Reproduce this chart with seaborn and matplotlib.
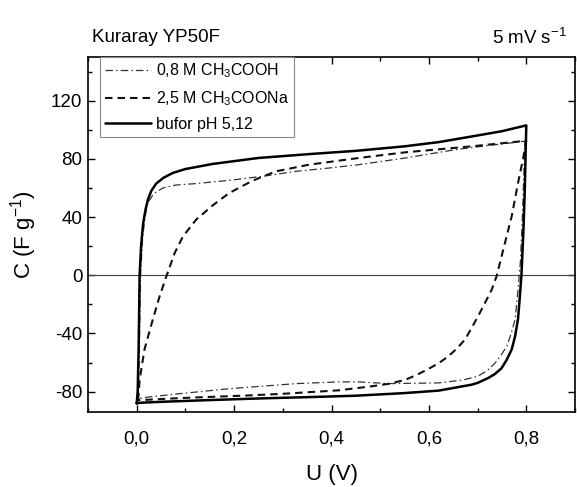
import matplotlib
matplotlib.use("Agg")
import matplotlib.pyplot as plt
from matplotlib.ticker import MultipleLocator, FuncFormatter
import seaborn as sns
import pandas as pd

# ---- data ----
solid_fwd_U = [0.000, 0.002, 0.004, 0.006, 0.009, 0.013, 0.018, 0.023, 0.030, 0.040, 0.055, 0.074, 0.100, 0.156, 0.250, 0.360, 0.450, 0.550, 0.620, 0.690, 0.750, 0.800]
solid_fwd_C = [-88, -80, -50, 0, 20, 35, 45, 52, 58, 63, 67, 70.3, 73, 76.5, 80.6, 83.4, 85.5, 88.6, 91.5, 95.5, 99, 103]
solid_rev_U = [0.800, 0.799, 0.797, 0.794, 0.790, 0.786, 0.783, 0.777, 0.770, 0.760, 0.749, 0.735, 0.722, 0.700, 0.688, 0.650, 0.620, 0.550, 0.450, 0.350, 0.250, 0.150, 0.050, 0.010, 0.000]
solid_rev_C = [103, 90, 60, 30, 0, -18, -30, -42, -51, -58, -64, -68, -70.6, -74, -75.2, -77.5, -79.3, -81, -82.8, -83.8, -84.7, -85.8, -87, -87.6, -88]

dd_fwd_U = [0.003, 0.005, 0.008, 0.012, 0.017, 0.023, 0.035, 0.054, 0.080, 0.122, 0.190, 0.258, 0.327, 0.395, 0.456, 0.552, 0.654, 0.730, 0.770, 0.790, 0.797]
dd_fwd_C = [-85, -60, 0, 25, 40, 50, 56, 60, 62, 63, 65.2, 68, 71.4, 73.7, 76, 80.6, 86.3, 89.5, 91, 92, 92]
dd_rev_U = [0.797, 0.795, 0.792, 0.788, 0.783, 0.777, 0.768, 0.760, 0.748, 0.736, 0.720, 0.700, 0.670, 0.620, 0.517, 0.456, 0.415, 0.327, 0.190, 0.088, 0.020, 0.003]
dd_rev_C = [92, 70, 40, 10, -10, -30.5, -41, -48.8, -55, -60.3, -65.5, -69.5, -72, -74, -74.5, -73.3, -73.3, -74.5, -78, -81.4, -83.9, -85]

dash_fwd_U = [0.003, 0.006, 0.016, 0.033, 0.047, 0.061, 0.078, 0.095, 0.122, 0.156, 0.190, 0.238, 0.286, 0.354, 0.456, 0.552, 0.688, 0.787, 0.800]
dash_fwd_C = [-86, -71.8, -51, -30.5, -14.5, -0.7, 15.3, 26.7, 38.2, 48, 56.5, 65, 71.4, 76, 80.6, 84.5, 88.6, 92, 92.5]
dash_rev_U = [0.800, 0.793, 0.783, 0.770, 0.756, 0.739, 0.729, 0.722, 0.712, 0.701, 0.688, 0.674, 0.657, 0.640, 0.620, 0.599, 0.575, 0.552, 0.520, 0.483, 0.415, 0.300, 0.224, 0.120, 0.054, 0.010, 0.003]
dash_rev_C = [92.5, 79.5, 63.4, 40.5, 22, -0.7, -9.9, -14.5, -21, -28.2, -36, -44.3, -50.5, -55.7, -60.5, -64.4, -68.5, -71.8, -74.5, -76.3, -79.1, -81.5, -82.7, -84, -85, -85.8, -86]

labels = [r"0,8 M CH$_3$COOH", r"2,5 M CH$_3$COONa", "bufor pH 5,12"]
x_ticks = [0.0, 0.2, 0.4, 0.6, 0.8]
y_ticks = [-80, -40, 0, 40, 80, 120]

# ---- styling ----
sns.set_theme(style="ticks")
plt.rcParams["font.family"] = ["Liberation Sans", "DejaVu Sans"]
plt.rcParams["mathtext.default"] = "regular"
plt.rcParams["axes.unicode_minus"] = False

fig = plt.figure(figsize=(5.77, 4.87), dpi=100)
W, H = 577, 487
L, R, T, B = 88, 575, 57, 412
ax = fig.add_axes([L / W, 1 - B / H, (R - L) / W, (B - T) / H])


def frame(fu, fc, ru, rc, name):
    return pd.DataFrame({"U": fu + ru, "C": fc + rc, "series": name,
                         "order": range(len(fu) + len(ru))})


df_dd = frame(dd_fwd_U, dd_fwd_C, dd_rev_U, dd_rev_C, labels[0])
df_da = frame(dash_fwd_U, dash_fwd_C, dash_rev_U, dash_rev_C, labels[1])
df_so = frame(solid_fwd_U, solid_fwd_C, solid_rev_U, solid_rev_C, labels[2])

ax.axhline(0, color="#444444", lw=0.8, zorder=1)

sns.lineplot(data=df_dd, x="U", y="C", sort=False, estimator=None, ax=ax,
             color="#333333", lw=0.9, linestyle=(0, (6, 2.5, 1.2, 2.5)),
             label=labels[0])
sns.lineplot(data=df_da, x="U", y="C", sort=False, estimator=None, ax=ax,
             color="#111111", lw=1.5, linestyle=(0, (3.6, 2.4)),
             label=labels[1])
sns.lineplot(data=df_so, x="U", y="C", sort=False, estimator=None, ax=ax,
             color="black", lw=1.8, label=labels[2])

ax.set_xlim(-0.1, 0.9)
ax.set_ylim(-94, 150)
ax.set_xticks(x_ticks)
ax.set_yticks(y_ticks)
ax.xaxis.set_minor_locator(MultipleLocator(0.1))
ax.yaxis.set_minor_locator(MultipleLocator(20))
ax.xaxis.set_major_formatter(FuncFormatter(lambda v, p: f"{v:.1f}".replace(".", ",")))
ax.yaxis.set_major_formatter(FuncFormatter(lambda v, p: f"{v:.0f}"))
ax.tick_params(which="both", direction="in", top=True, right=True,
               color="black", width=1.0, labelsize=13.5, labelcolor="black")
ax.tick_params(which="major", length=5)
ax.tick_params(which="minor", length=3)
ax.tick_params(axis="x", which="major", pad=13)
ax.tick_params(axis="y", which="major", pad=4)
for s in ax.spines.values():
    s.set_color("black")
    s.set_linewidth(1.2)

ax.set_xlabel("U (V)", fontsize=16, color="black", labelpad=12)
ax.set_ylabel(r"C (F g$^{-1}$)", fontsize=16, color="black", labelpad=9)

leg = ax.legend(loc="upper left", bbox_to_anchor=(100 / W, 1 - 57 / H),
                bbox_transform=fig.transFigure, borderaxespad=0,
                fontsize=11.5, handlelength=2.9, handletextpad=0.3,
                labelspacing=0.55, borderpad=0.3, fancybox=False,
                frameon=True, framealpha=1)
leg.get_frame().set_edgecolor("#888888")
leg.get_frame().set_linewidth(0.8)
for t in leg.get_texts():
    t.set_color("black")

fig.text(92 / W, 1 - 38 / H, "Kuraray YP50F", fontsize=13.5, ha="left",
         va="center", color="black")
fig.text(567 / W, 1 - 38 / H, r"5 mV s$^{-1}$", fontsize=13.5, ha="right",
         va="center", color="black")

fig.savefig("out.png", dpi=100)
